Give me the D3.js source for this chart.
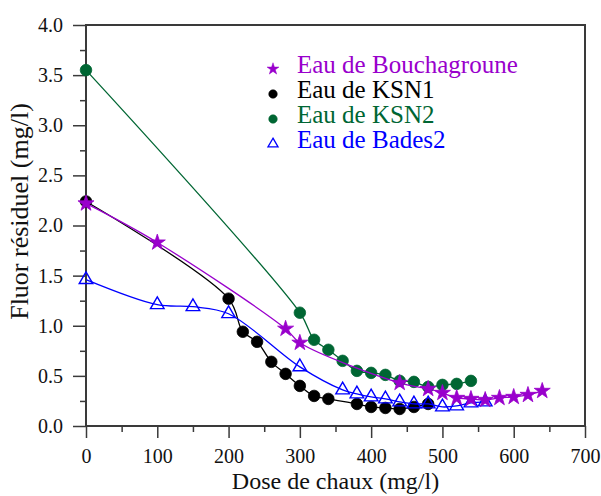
<!DOCTYPE html>
<html><head><meta charset="utf-8">
<script src="https://cdn.jsdelivr.net/npm/d3@7"></script>
<style>
svg text { font-family: "Liberation Serif", "Times New Roman", Times, serif !important; }
</style>
</head>
<body style="margin:0"><svg id="c" width="601" height="496" font-family="Liberation Serif"></svg>
<script>
// ---- data ----
const seriesNames = ["Eau de Bouchagroune", "Eau de KSN1", "Eau de KSN2", "Eau de Bades2"];
const bouchX = [0, 100, 280, 300, 440, 480, 500, 520, 540, 560, 580, 600, 620, 640];
const bouchY = [2.22, 1.83, 0.97, 0.83, 0.43, 0.37, 0.33, 0.28, 0.27, 0.26, 0.28, 0.29, 0.31, 0.35];
const ksn1X = [0, 200, 220, 240, 260, 280, 300, 320, 340, 380, 400, 420, 440, 460, 480];
const ksn1Y = [2.24, 1.27, 0.94, 0.84, 0.64, 0.52, 0.40, 0.30, 0.27, 0.22, 0.19, 0.18, 0.17, 0.19, 0.22];
const ksn2X = [0, 300, 320, 340, 360, 380, 400, 420, 440, 460, 480, 500, 520, 540];
const ksn2Y = [3.55, 1.13, 0.86, 0.76, 0.65, 0.55, 0.53, 0.51, 0.45, 0.44, 0.39, 0.41, 0.42, 0.45];
const bades2X = [0, 100, 150, 200, 300, 360, 380, 400, 420, 440, 460, 480, 500, 520, 540, 560];
const bades2Y = [1.46, 1.21, 1.19, 1.12, 0.59, 0.36, 0.32, 0.29, 0.27, 0.24, 0.22, 0.22, 0.19, 0.20, 0.23, 0.24];
const xTicks = [0, 100, 200, 300, 400, 500, 600, 700];
const xMinor = [50, 150, 250, 350, 450, 550, 650];
const yTicks = [0, 0.5, 1.0, 1.5, 2.0, 2.5, 3.0, 3.5, 4.0];
const yMinor = [0.25, 0.75, 1.25, 1.75, 2.25, 2.75, 3.25, 3.75];
const xTitle = "Dose de chaux (mg/l)";
const yTitle = "Fluor résiduel (mg/l)";

// ---- layout ----
const FONT = "Liberation Serif";
const L = 86, R = 585, T = 25, B = 426;
const svg = d3.select("#c");
const x = d3.scaleLinear().domain([0, 700]).range([L, R]);
const y = d3.scaleLinear().domain([0, 4]).range([B, T]);
const axisCol = "#3a3a3a";

const series = [
  {name: seriesNames[2], xs: ksn2X, ys: ksn2Y, color: "#006633", sym: "circle"},
  {name: seriesNames[1], xs: ksn1X, ys: ksn1Y, color: "#000000", sym: "circle"},
  {name: seriesNames[3], xs: bades2X, ys: bades2Y, color: "#0000ff", sym: "triangle"},
  {name: seriesNames[0], xs: bouchX, ys: bouchY, color: "#9900cc", sym: "star"}
];

// axes
const gx = svg.append("g").attr("transform", `translate(0,${B})`)
  .call(d3.axisBottom(x).tickValues(xTicks).tickSize(12).tickSizeOuter(0).tickPadding(11).tickFormat(d3.format("d")));
const gxm = svg.append("g").attr("transform", `translate(0,${B})`)
  .call(d3.axisBottom(x).tickValues(xMinor).tickSize(6).tickSizeOuter(0).tickFormat(""));
const gy = svg.append("g").attr("transform", `translate(${L},0)`)
  .call(d3.axisLeft(y).tickValues(yTicks).tickSize(13).tickSizeOuter(0).tickPadding(10).tickFormat(d3.format(".1f")));
const gym = svg.append("g").attr("transform", `translate(${L},0)`)
  .call(d3.axisLeft(y).tickValues(yMinor).tickSize(6).tickSizeOuter(0).tickFormat(""));
[gx, gxm, gy, gym].forEach(g => {
  g.attr("font-family", FONT).attr("font-size", 20);
  g.select(".domain").remove();
  g.selectAll(".tick line").attr("stroke", axisCol).attr("stroke-width", 1.5);
  g.selectAll("text").attr("font-family", FONT).attr("font-size", 20).attr("fill", "#111");
});
svg.append("rect").attr("x", L).attr("y", T).attr("width", R - L).attr("height", B - T)
  .attr("fill", "none").attr("stroke", axisCol).attr("stroke-width", 2);

// titles
svg.append("text").attr("x", (L + R) / 2).attr("y", 489).attr("text-anchor", "middle")
  .attr("font-family", FONT).attr("font-size", 24).attr("fill", "#111").text(xTitle);
svg.append("text").attr("transform", `translate(28,${(T + B) / 2 - 14}) rotate(-90)`)
  .attr("text-anchor", "middle").attr("font-family", FONT).attr("font-size", 26).attr("fill", "#111").text(yTitle);

// lines and markers
const line = d3.line().curve(d3.curveCatmullRom.alpha(0.5));
function symPath(sym, scale) {
  if (sym === "star") return d3.symbol().type(d3.symbolStar).size(80 * scale)();
  if (sym === "triangle") return d3.symbol().type(d3.symbolTriangle).size(80 * scale)();
  return d3.symbol().type(d3.symbolCircle).size(105 * scale)();
}
series.forEach(s => {
  const pts = s.xs.map((v, i) => [x(v), y(s.ys[i])]);
  svg.append("path").attr("d", line(pts)).attr("fill", "none")
    .attr("stroke", s.color).attr("stroke-width", 1.3);
  svg.append("g").selectAll("path").data(pts).join("path")
    .attr("transform", p => `translate(${p[0]},${p[1]})`)
    .attr("d", symPath(s.sym, 1))
    .attr("fill", s.sym === "triangle" ? "none" : s.color)
    .attr("stroke", s.color).attr("stroke-width", s.sym === "triangle" ? 1.4 : 0.8);
});

// legend
const legendOrder = [series[3], series[1], series[0], series[2]];
legendOrder.forEach((s, i) => {
  const by = 73 + i * 25;
  svg.append("path").attr("transform", `translate(${273},${by - 4})`)
    .attr("d", symPath(s.sym, 0.55))
    .attr("fill", s.sym === "triangle" ? "none" : s.color)
    .attr("stroke", s.color).attr("stroke-width", s.sym === "triangle" ? 1.3 : 0.5);
  svg.append("text").attr("x", 297).attr("y", by).attr("font-family", FONT).attr("font-size", 25)
    .attr("fill", s.color).text(s.name);
});
</script></body></html>
